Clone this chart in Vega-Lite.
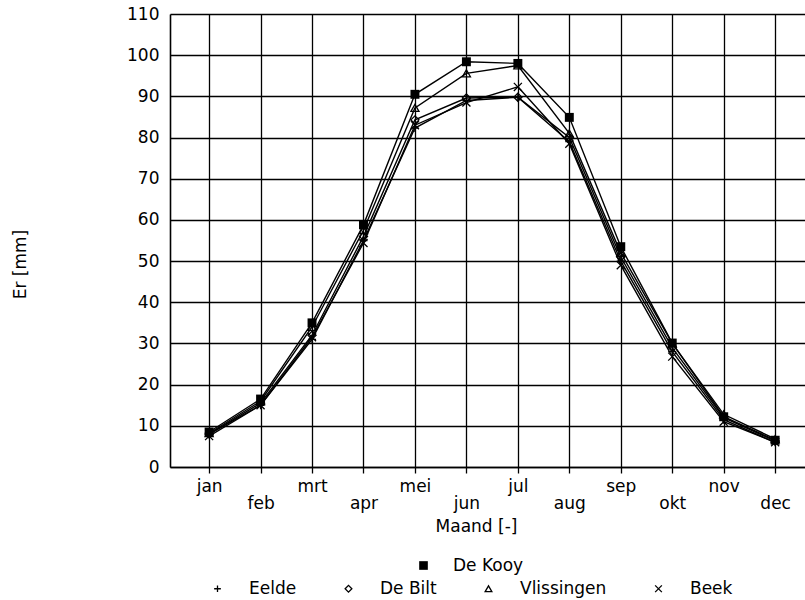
{
  "$schema": "https://vega.github.io/schema/vega-lite/v6.json",
  "width": 635,
  "height": 453,
  "autosize": "none",
  "padding": {"left": 170, "top": 14, "right": 0, "bottom": 133},
  "background": "white",
  "config": {
    "font": "DejaVu Sans",
    "view": {"stroke": null},
    "axis": {
      "labelFont": "DejaVu Sans", "labelFontSize": 17, "labelColor": "black",
      "titleFont": "DejaVu Sans", "titleFontSize": 17, "titleFontWeight": "normal", "titleColor": "black",
      "gridColor": "black", "gridOpacity": 1, "gridWidth": 1.3,
      "domainColor": "black", "domainWidth": 1.6,
      "tickColor": "black", "tickWidth": 1.3
    },
    "legend": {"labelFont": "DejaVu Sans", "labelFontSize": 17, "labelColor": "black", "padding": 0}
  },
  "data": {
    "values": [
      {"station": "De Kooy", "month": 1, "er": 8.5}, {"station": "De Kooy", "month": 2, "er": 16.5}, {"station": "De Kooy", "month": 3, "er": 35}, {"station": "De Kooy", "month": 4, "er": 58.8}, {"station": "De Kooy", "month": 5, "er": 90.5}, {"station": "De Kooy", "month": 6, "er": 98.4}, {"station": "De Kooy", "month": 7, "er": 98.0}, {"station": "De Kooy", "month": 8, "er": 84.9}, {"station": "De Kooy", "month": 9, "er": 53.5}, {"station": "De Kooy", "month": 10, "er": 30.1}, {"station": "De Kooy", "month": 11, "er": 12.2}, {"station": "De Kooy", "month": 12, "er": 6.5},
      {"station": "Eelde", "month": 1, "er": 8}, {"station": "Eelde", "month": 2, "er": 15}, {"station": "Eelde", "month": 3, "er": 31}, {"station": "Eelde", "month": 4, "er": 55}, {"station": "Eelde", "month": 5, "er": 82.3}, {"station": "Eelde", "month": 6, "er": 89}, {"station": "Eelde", "month": 7, "er": 89.8}, {"station": "Eelde", "month": 8, "er": 79}, {"station": "Eelde", "month": 9, "er": 50}, {"station": "Eelde", "month": 10, "er": 28}, {"station": "Eelde", "month": 11, "er": 11.5}, {"station": "Eelde", "month": 12, "er": 6},
      {"station": "De Bilt", "month": 1, "er": 8}, {"station": "De Bilt", "month": 2, "er": 15.5}, {"station": "De Bilt", "month": 3, "er": 32}, {"station": "De Bilt", "month": 4, "er": 56}, {"station": "De Bilt", "month": 5, "er": 84.3}, {"station": "De Bilt", "month": 6, "er": 89.6}, {"station": "De Bilt", "month": 7, "er": 89.8}, {"station": "De Bilt", "month": 8, "er": 80}, {"station": "De Bilt", "month": 9, "er": 51}, {"station": "De Bilt", "month": 10, "er": 29}, {"station": "De Bilt", "month": 11, "er": 12}, {"station": "De Bilt", "month": 12, "er": 6.3},
      {"station": "Vlissingen", "month": 1, "er": 8.2}, {"station": "Vlissingen", "month": 2, "er": 16}, {"station": "Vlissingen", "month": 3, "er": 34}, {"station": "Vlissingen", "month": 4, "er": 57.5}, {"station": "Vlissingen", "month": 5, "er": 87.2}, {"station": "Vlissingen", "month": 6, "er": 95.6}, {"station": "Vlissingen", "month": 7, "er": 97.5}, {"station": "Vlissingen", "month": 8, "er": 81}, {"station": "Vlissingen", "month": 9, "er": 52}, {"station": "Vlissingen", "month": 10, "er": 30}, {"station": "Vlissingen", "month": 11, "er": 12.8}, {"station": "Vlissingen", "month": 12, "er": 6.8},
      {"station": "Beek", "month": 1, "er": 7.5}, {"station": "Beek", "month": 2, "er": 15}, {"station": "Beek", "month": 3, "er": 31.5}, {"station": "Beek", "month": 4, "er": 54.4}, {"station": "Beek", "month": 5, "er": 83}, {"station": "Beek", "month": 6, "er": 88.5}, {"station": "Beek", "month": 7, "er": 92.3}, {"station": "Beek", "month": 8, "er": 78.5}, {"station": "Beek", "month": 9, "er": 49}, {"station": "Beek", "month": 10, "er": 26.8}, {"station": "Beek", "month": 11, "er": 11}, {"station": "Beek", "month": 12, "er": 6}
    ]
  },
  "encoding": {
    "x": {
      "field": "month", "type": "quantitative",
      "scale": {"domain": [0.24, 12.58], "nice": false, "zero": false},
      "axis": {
        "values": [1, 2, 3, 4, 5, 6, 7, 8, 9, 10, 11, 12],
        "labelExpr": "['jan','feb','mrt','apr','mei','jun','jul','aug','sep','okt','nov','dec'][datum.value - 1]",
        "grid": true, "tickSize": 6,
        "labelPadding": {"condition": {"test": "datum.value % 2 == 0", "value": 22}, "value": 5},
        "labelFlush": false, "labelOverlap": false,
        "title": "Maand [-]", "titleX": 306, "titleY": 64, "titleBaseline": "alphabetic", "titleAlign": "center"
      }
    },
    "y": {
      "field": "er", "type": "quantitative",
      "scale": {"domain": [0, 110], "nice": false},
      "axis": {
        "values": [0, 10, 20, 30, 40, 50, 60, 70, 80, 90, 100, 110],
        "grid": true, "ticks": false, "labelPadding": 11,
        "title": "Er [mm]", "titleAngle": -90, "titleX": -150, "titleY": 250,
        "titleAlign": "center", "titleBaseline": "middle"
      }
    }
  },
  "layer": [
    {
      "mark": {"type": "line", "color": "black", "strokeWidth": 1.4},
      "encoding": {"detail": {"field": "station"}}
    },
    {
      "transform": [{"filter": "datum.station == 'De Kooy'"}],
      "mark": {"type": "point", "filled": true, "color": "black", "size": 80, "opacity": 1},
      "encoding": {
        "shape": {
          "field": "station", "type": "nominal",
          "scale": {"domain": ["De Kooy"], "range": ["square"]},
          "legend": {"title": null, "orient": "none", "direction": "horizontal", "legendX": 245, "legendY": 543, "labelOffset": 21, "symbolSize": 75, "symbolFillColor": "black", "symbolStrokeColor": "black"}
        }
      }
    },
    {
      "transform": [{"filter": "datum.station != 'De Kooy'"}],
      "mark": {"type": "point", "filled": false, "color": "black", "size": 65, "strokeWidth": 1.3, "opacity": 1},
      "encoding": {
        "shape": {
          "field": "station", "type": "nominal",
          "scale": {"domain": ["Eelde", "De Bilt", "Vlissingen", "Beek"], "range": ["M-1,0L1,0M0,-1L0,1", "diamond", "triangle-up", "M-1,-1L1,1M1,-1L-1,1"]},
          "legend": {"title": null, "orient": "none", "direction": "horizontal", "legendX": 39, "legendY": 566, "labelOffset": 23, "columnPadding": 43, "symbolSize": 45, "symbolStrokeColor": "black", "symbolStrokeWidth": 1.3}
        }
      }
    }
  ],
  "resolve": {"scale": {"shape": "independent"}, "legend": {"shape": "independent"}}
}
